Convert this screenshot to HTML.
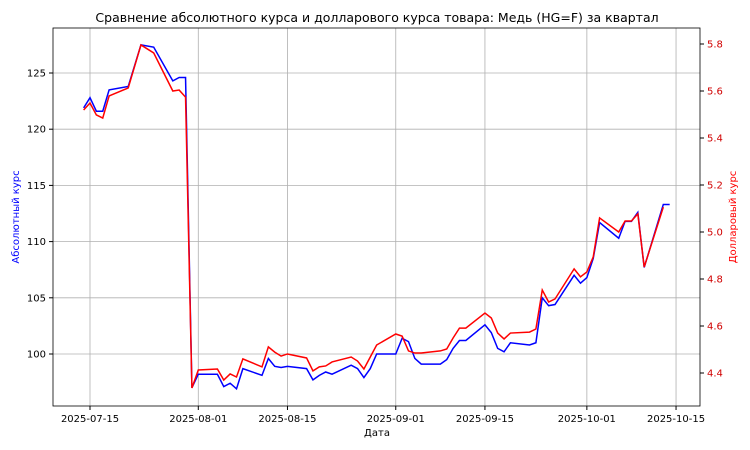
<!DOCTYPE html>
<html><head><meta charset="utf-8"><style>
body{margin:0;background:#fff}
svg{display:block;font-family:"DejaVu Sans","Liberation Sans",sans-serif}
</style></head><body>
<svg id="chart" width="750" height="450"></svg>
<script>
const dayLabels=["2025-07-15","2025-08-01","2025-08-15","2025-09-01","2025-09-15","2025-10-01","2025-10-15"];
const dayTicks=[0,17,31,48,62,78,92];
const leftTicks=[100,105,110,115,120,125];
const rightTicks=[4.4,4.6,4.8,5.0,5.2,5.4,5.6,5.8];
const days=[-1,0,1,2,3,6,8,10,13,14,15,16,17,20,21,22,23,24,27,28,29,30,31,34,35,36,37,38,41,42,43,44,45,48,49,50,51,52,55,56,57,58,59,62,63,64,65,66,69,70,71,72,73,76,77,78,79,80,83,84,85,86,87,90,91];
const absVals=[121.9,122.8,121.6,121.6,123.5,123.8,127.5,127.3,124.3,124.6,124.6,97.0,98.2,98.2,97.1,97.4,96.9,98.7,98.1,99.6,98.9,98.8,98.9,98.7,97.7,98.1,98.4,98.2,99.0,98.7,97.9,98.7,100.0,100.0,101.4,101.1,99.6,99.1,99.1,99.5,100.5,101.2,101.2,102.6,101.9,100.5,100.2,101.0,100.8,101.0,105.0,104.3,104.4,107.0,106.3,106.8,108.5,111.7,110.3,111.8,111.8,112.6,107.7,113.3,113.3];
const usdVals=[5.519,5.549,5.498,5.485,5.579,5.613,5.796,5.762,5.600,5.604,5.574,4.336,4.413,4.417,4.370,4.396,4.383,4.460,4.426,4.511,4.489,4.472,4.481,4.464,4.409,4.426,4.430,4.447,4.468,4.451,4.417,4.468,4.519,4.566,4.557,4.494,4.485,4.485,4.494,4.502,4.549,4.591,4.591,4.655,4.634,4.570,4.545,4.570,4.574,4.587,4.753,4.702,4.715,4.843,4.809,4.830,4.894,5.060,5.000,5.047,5.047,5.077,4.851,5.106];

const L=53,R=700,T=28,B=406;
const xS=d=>90+d*6.37;
const yL=v=>354-(v-100)*11.24;
const yR=v=>373-(v-4.4)*235;
const svg=document.getElementById('chart');
const NS='http://www.w3.org/2000/svg';
function mk(tag,attrs,parent){const e=document.createElementNS(NS,tag);for(const k in attrs)e.setAttribute(k,attrs[k]);(parent||svg).appendChild(e);return e;}

const grid=mk('g',{});


dayTicks.forEach((d,i)=>{
  const x=xS(d);
  const gl=mk('line',{x1:x,x2:x,y1:T,y2:B,stroke:'#b0b0b0','stroke-width':0.8},grid);
  
  
  mk('line',{x1:x,x2:x,y1:B,y2:B+4,stroke:'#000'});
  const t=mk('text',{x:x,y:B+16,'font-size':10,'text-anchor':'middle'});
  t.textContent=dayLabels[i];
  
  
});
leftTicks.forEach(v=>{
  const y=yL(v);
  const gl=mk('line',{x1:L,x2:R,y1:y,y2:y,stroke:'#b0b0b0','stroke-width':0.8},grid);
  
  
  mk('line',{x1:L-4,x2:L,y1:y,y2:y,stroke:'#000'});
  const t=mk('text',{x:L-7,y:y+3.5,'font-size':10,'text-anchor':'end'});
  t.textContent=v;
  
  
});
rightTicks.forEach(v=>{
  const y=yR(v);
  mk('line',{x1:R,x2:R+4,y1:y,y2:y,stroke:'#000'});
  const t=mk('text',{x:R+7,y:y+3.5,'font-size':10,'fill':'#d00000'});
  t.textContent=v.toFixed(1);
  
  
});

const cp=mk('clipPath',{id:'c'});mk('rect',{x:L,y:T,width:R-L,height:B-T},cp);
const p1=mk('polyline',{points:days.map((d,i)=>xS(d)+','+yL(absVals[i])).join(' '),fill:'none',stroke:'#0000ff','stroke-width':1.5,'clip-path':'url(#c)'});


const p2=mk('polyline',{points:usdVals.map((v,i)=>xS(days[i])+','+yR(v)).join(' '),fill:'none',stroke:'#ff0000','stroke-width':1.5,'clip-path':'url(#c)'});



const fr=mk('rect',{x:L,y:T,width:R-L,height:B-T,fill:'none',stroke:'#000','stroke-width':0.8});



const title=mk('text',{x:377,y:22,'font-size':12.5,'text-anchor':'middle'});
title.textContent='Сравнение абсолютного курса и долларового курса товара: Медь (HG=F) за квартал';


const xl=mk('text',{x:377,y:436,'font-size':10,'text-anchor':'middle'});
xl.textContent='Дата';


const yl=mk('text',{x:0,y:0,'font-size':10,'text-anchor':'middle',fill:'#0000ff',transform:'translate(19,217) rotate(-90)'});
yl.textContent='Абсолютный курс';


const yr=mk('text',{x:0,y:0,'font-size':10,'text-anchor':'middle',fill:'#ff0000',transform:'translate(736,217) rotate(-90)'});
yr.textContent='Долларовый курс';


</script>
</body></html>
